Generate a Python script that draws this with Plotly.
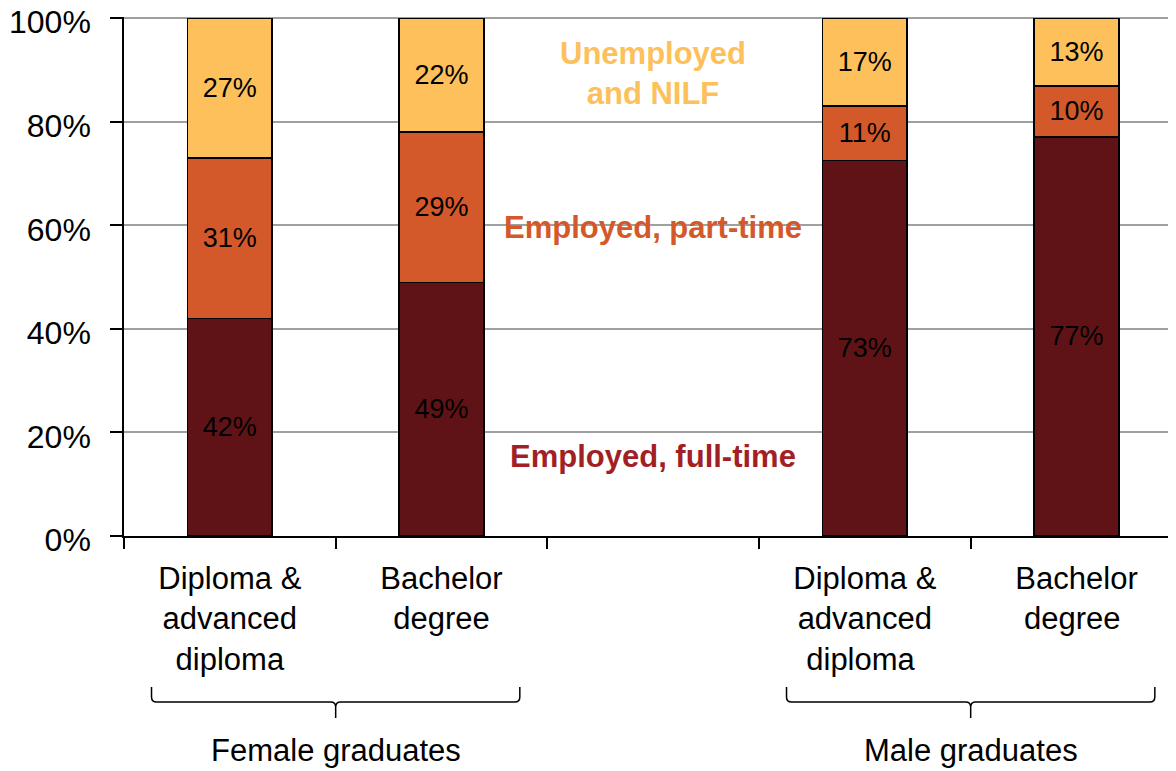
import plotly.graph_objects as go

# ---- data ----
categories = [
    "Diploma &<br>advanced<br>diploma",
    "Bachelor<br>degree",
    " ",
    "Diploma &<br>advanced<br>diploma ",
    "Bachelor<br>degree ",
]
full_time = [42, 49, None, 72.5, 77.1]
part_time = [31, 29, None, 10.6, 9.8]
unemployed = [27, 22, None, 16.9, 13.1]
full_labels = ["42%", "49%", "", "73%", "77%"]
part_labels = ["31%", "29%", "", "11%", "10%"]
unemp_labels = ["27%", "22%", "", "17%", "13%"]
y_ticks = [0, 20, 40, 60, 80, 100]
y_ticktext = ["0%", "20%", "40%", "60%", "80%", "100%"]
groups = ["Female graduates", "Male graduates"]
group_centers = [0.5, 3.5]

FONT = "Arial, 'Liberation Sans', sans-serif"
C_FULL = "#601317"
C_PART = "#D4592A"
C_UNEMP = "#FDC05A"
C_FULL_TXT = "#A21F25"

# page has an 8px body margin; size the figure to the visible area
OFF = 8
W, H = 1176 - OFF, 771 - OFF
ML, MR, MT, MB = 124 - OFF, 0, 17 - OFF, 235
X_RANGE = [-0.5, 4.47]
Y_RANGE = [0, 100.25]

fig = go.Figure()
series = [
    (full_time, full_labels, C_FULL, "Employed, full-time"),
    (part_time, part_labels, C_PART, "Employed, part-time"),
    (unemployed, unemp_labels, C_UNEMP, "Unemployed and NILF"),
]
for vals, labels, color, name in series:
    fig.add_trace(go.Bar(
        x=categories, y=vals, name=name, text=labels,
        textposition="inside", insidetextanchor="middle", textangle=0,
        constraintext="none",
        textfont=dict(family=FONT, size=27, color="black"),
        marker=dict(color=color, line=dict(color="black", width=1.5)),
        width=0.4, hoverinfo="skip",
    ))

fig.update_layout(
    barmode="stack",
    width=W, height=H,
    margin=dict(l=ML, r=MR, t=MT, b=MB, pad=0, autoexpand=False),
    plot_bgcolor="white", paper_bgcolor="white",
    showlegend=False,
    font=dict(family=FONT, size=31, color="black"),
)
fig.update_yaxes(
    range=Y_RANGE, tickvals=y_ticks, ticktext=y_ticktext, automargin=False,
    showline=True, linecolor="black", linewidth=1.5,
    ticks="outside", ticklen=12, tickcolor="black", tickwidth=1.5,
    showgrid=True, gridcolor="#A0A0A0", gridwidth=1.5, zeroline=False,
    tickfont=dict(family=FONT, size=32, color="black"),
    ticklabelstandoff=13, ticklabelshift=4, ticklabeloverflow="allow",
)
fig.update_xaxes(
    type="category", range=X_RANGE, automargin=False,
    showline=True, linecolor="black", linewidth=1.5,
    ticks="outside", ticklen=11, tickcolor="black", tickwidth=1.5,
    tickson="boundaries", showgrid=False,
    tickfont=dict(family=FONT, size=31, color="black"),
    ticklabelstandoff=14, ticklabeloverflow="allow",
)

# series labels in the empty slot
fig.add_annotation(x=2, y=89.4, xref="x", yref="y", text="<b>Unemployed<br>and NILF</b>",
                   showarrow=False, font=dict(family=FONT, size=31, color=C_UNEMP))
fig.add_annotation(x=2, y=59.6, xref="x", yref="y", text="<b>Employed, part-time</b>",
                   showarrow=False, font=dict(family=FONT, size=31, color=C_PART))
fig.add_annotation(x=2, y=15.3, xref="x", yref="y", text="<b>Employed, full-time</b>",
                   showarrow=False, font=dict(family=FONT, size=31, color=C_FULL_TXT))

# brackets + group labels (pixel positions given in screenshot coords)
plot_w = W - ML - MR
plot_h = H - MT - MB
def idx_to_paper(i):
    return (i - X_RANGE[0]) / (X_RANGE[1] - X_RANGE[0])
def px_to_paper_y(py):
    return (H - MB - (py - OFF)) / plot_h

half = 0.87
y_end = px_to_paper_y(687)
y_bar = px_to_paper_y(702)
y_tip = px_to_paper_y(718)
dy_c = px_to_paper_y(697) - y_bar
dx_c = 5 / plot_w
for name, c in zip(groups, group_centers):
    x0 = idx_to_paper(c - half)
    x1 = idx_to_paper(c + half)
    xc = idx_to_paper(c)
    path = (
        f"M {x0},{y_end} L {x0},{y_bar + dy_c} Q {x0},{y_bar} {x0 + dx_c},{y_bar} "
        f"L {xc - dx_c},{y_bar} Q {xc},{y_bar} {xc},{y_bar - dy_c} L {xc},{y_tip} "
        f"M {xc},{y_bar - dy_c} Q {xc},{y_bar} {xc + dx_c},{y_bar} "
        f"L {x1 - dx_c},{y_bar} Q {x1},{y_bar} {x1},{y_bar + dy_c} L {x1},{y_end}"
    )
    fig.add_shape(type="path", path=path, xref="paper", yref="paper",
                  line=dict(color="black", width=1.5))
    fig.add_annotation(x=xc, y=px_to_paper_y(750), xref="paper", yref="paper",
                       text=name, showarrow=False, xanchor="center", yanchor="middle",
                       font=dict(family=FONT, size=31, color="black"))

fig.write_html("out.html")
